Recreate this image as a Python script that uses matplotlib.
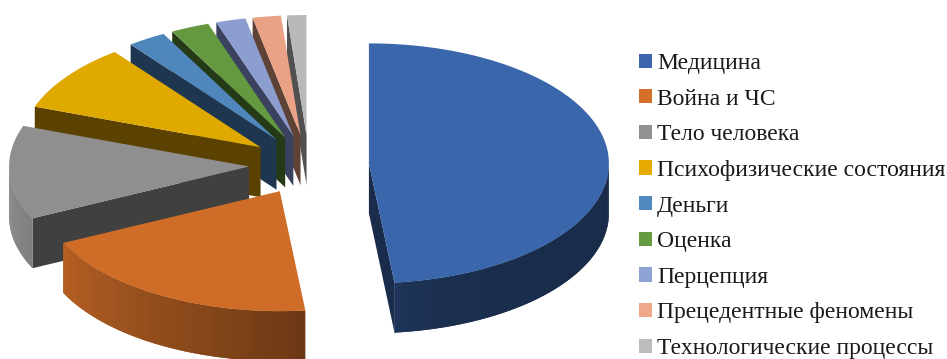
import numpy as np
import matplotlib
matplotlib.use("Agg")
import matplotlib.pyplot as plt
from matplotlib.patches import Patch

# Share of each topic, percent
categories = ["Медицина", "Война и ЧС", "Тело человека", "Психофизические состояния",
              "Деньги", "Оценка", "Перцепция", "Прецедентные феномены",
              "Технологические процессы"]
values = [48.3, 19.6, 12.6, 9.1, 2.6, 2.6, 2.0, 1.9, 1.3]

top_colors = ["#3A66AC", "#CF6D28", "#8F8F8F", "#DFA900", "#4F86BC",
              "#64993F", "#8C9ED0", "#EAA286", "#B9B9B9"]
face_colors = ["#1A2B4C", "#6E3512", "#404040", "#5C4200", "#1E364F",
               "#253A17", "#3A4260", "#5E4236", "#505050"]
legend_colors = ["#3D65AE", "#D5702A", "#919191", "#E5A900", "#5089BE",
                 "#669C41", "#8FA2D4", "#F1A78A", "#BCBCBC"]

TILT = 0.5       # vertical squash of the pie plane
DEPTH = 0.208    # thickness of the slices
EXPLODE = 0.25   # distance each slice is pulled from the centre


def rim(angle):
    """Point on the unit circle; angle in degrees, clockwise from 12 o'clock."""
    t = np.radians(angle)
    return np.sin(t), np.cos(t)


def wall_shade(angle):
    """Brightness of the outer wall as the light falls off around the rim."""
    return np.interp(angle, [90, 160, 174, 245, 270], [0.42, 0.45, 0.52, 0.88, 0.92])


def scaled(color, k):
    rgb = np.array(matplotlib.colors.to_rgb(color))
    return tuple(np.clip(rgb * k, 0, 1))


fig = plt.figure(figsize=(9.47, 3.59), dpi=100)
ax = fig.add_axes([0, 0, 1, 1])
ax.set_xlim(-309 / 240, 638 / 240)
ax.set_ylim(-194 / 240, 165 / 240)
ax.axis("off")

edges = 360 * np.cumsum([0] + values) / sum(values)
slices = []
for i, (a0, a1) in enumerate(zip(edges[:-1], edges[1:])):
    mx, my = rim((a0 + a1) / 2)
    slices.append((i, a0, a1, mx * EXPLODE, my * EXPLODE * TILT))

# Far slices first so nearer ones cover them
slices.sort(key=lambda s: -s[4])
for order, (i, a0, a1, cx, cy) in enumerate(slices):
    z = 2 + order
    rx, ry = rim(np.linspace(a0, a1, 160))

    # Radial faces that turn toward the viewer
    for a, visible in ((a0, rim(a0)[0] < -1e-6), (a1, rim(a1)[0] > 1e-6)):
        if visible:
            dx, dy = rim(a)
            ex, ey = cx + dx, cy + dy * TILT
            ax.fill([cx, ex, ex, cx], [cy, ey, ey - DEPTH, cy - DEPTH],
                    color=face_colors[i], lw=0, zorder=z)

    # Outer wall: overlapping narrow strips carry the shading
    lo, hi = max(a0, 90), min(a1, 270)
    if hi > lo:
        steps = np.linspace(lo, hi, 81)
        for k in range(len(steps) - 1):
            arc = np.linspace(steps[k], steps[min(k + 2, len(steps) - 1)], 5)
            wx, wy = rim(arc)
            xs = cx + np.r_[wx, wx[::-1]]
            ys = cy + np.r_[wy * TILT, wy[::-1] * TILT - DEPTH]
            mid = (steps[k] + steps[k + 1]) / 2
            ax.fill(xs, ys, color=scaled(top_colors[i], wall_shade(mid)), lw=0, zorder=z)

    # Top surface
    ax.fill(np.r_[cx, cx + rx], np.r_[cy, cy + ry * TILT], color=top_colors[i], lw=0, zorder=z)

handles = [Patch(facecolor=c, edgecolor="none") for c in legend_colors]
FONT_PT = 17
font_px = FONT_PT * 100 / 72
ax.legend(handles, categories, loc="upper left", frameon=False,
          bbox_to_anchor=(639 / 947, 1 - 53 / 359), bbox_transform=fig.transFigure,
          prop={"family": "Liberation Serif", "size": FONT_PT},
          handlelength=13 / font_px, handleheight=13 / font_px,
          handletextpad=5 / font_px, labelspacing=0.62,
          borderpad=0, borderaxespad=0, labelcolor="#1a1a1a")

fig.savefig("out.png", dpi=100)
